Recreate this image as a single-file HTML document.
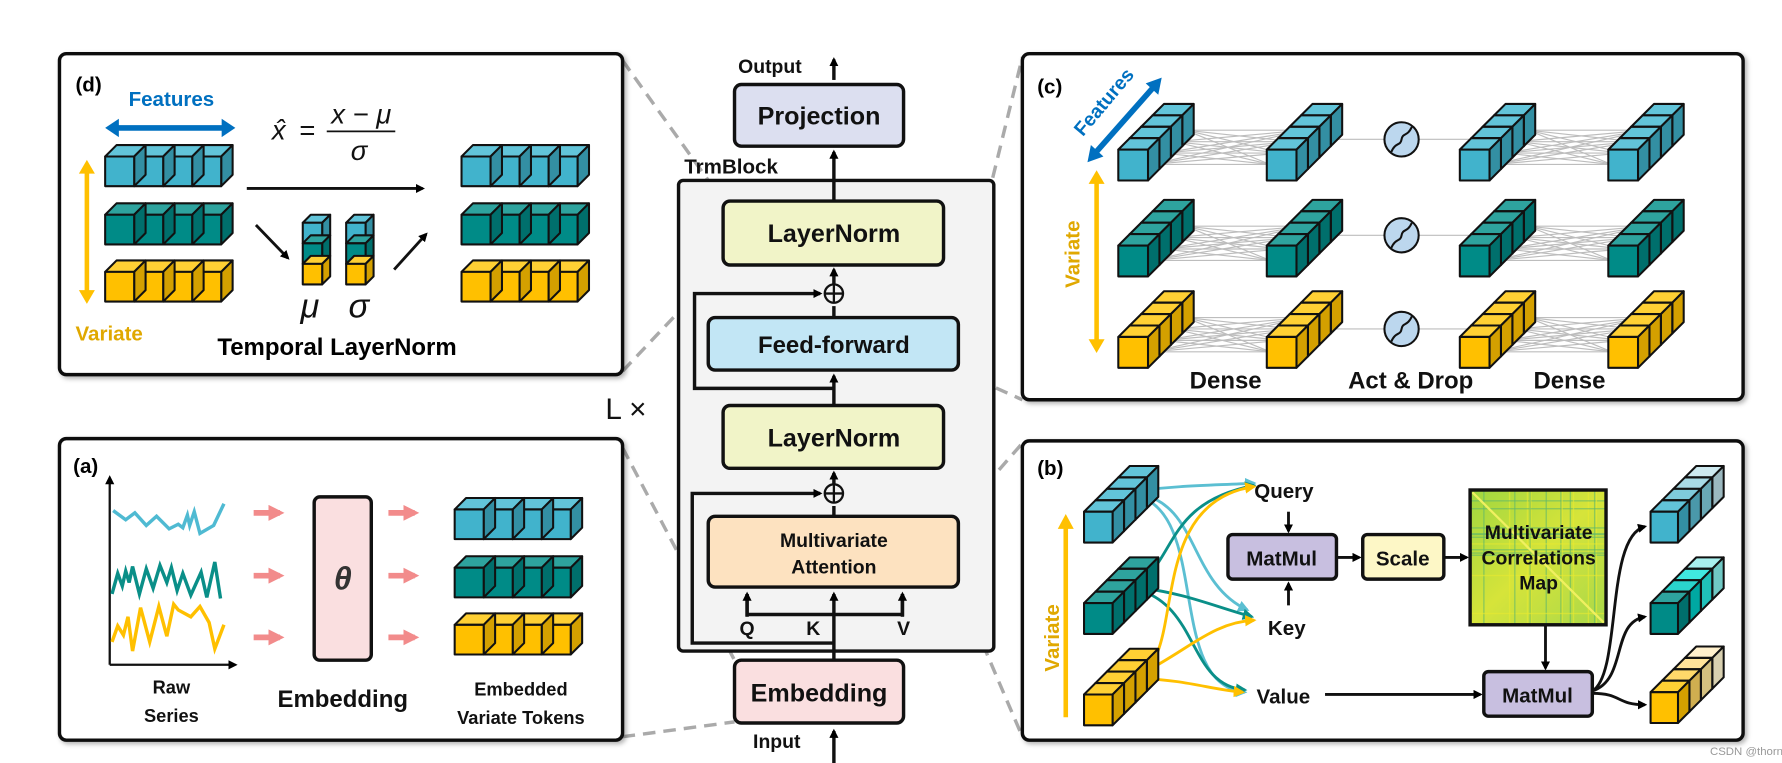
<!DOCTYPE html>
<html><head><meta charset="utf-8">
<style>
html,body{margin:0;padding:0;background:#fff;width:1782px;height:763px;overflow:hidden}
svg{display:block}
text{font-family:"Liberation Sans",sans-serif}
</style></head>
<body>
<svg id="s" width="1782" height="763" viewBox="0 0 1560 668" xmlns="http://www.w3.org/2000/svg">
<defs>
<marker id="ab" markerWidth="8" markerHeight="8" refX="6" refY="4" orient="auto" markerUnits="userSpaceOnUse"><path d="M0,0 L8,4 L0,8 z" fill="#000"/></marker>
<marker id="ap" markerWidth="14" markerHeight="14" refX="10" refY="7" orient="auto" markerUnits="userSpaceOnUse"><path d="M0,0 L14,7 L0,14 z" fill="#f28b8b"/></marker>
<marker id="ac" markerWidth="10" markerHeight="10" refX="8" refY="5" orient="auto" markerUnits="userSpaceOnUse"><path d="M0,0 L10,5 L0,10 z" fill="#5bbfd2"/></marker>
<marker id="at" markerWidth="10" markerHeight="10" refX="8" refY="5" orient="auto" markerUnits="userSpaceOnUse"><path d="M0,0 L10,5 L0,10 z" fill="#0a8f88"/></marker>
<marker id="ay" markerWidth="10" markerHeight="10" refX="8" refY="5" orient="auto" markerUnits="userSpaceOnUse"><path d="M0,0 L10,5 L0,10 z" fill="#ffc000"/></marker>
<linearGradient id="mg" x1="0" y1="0" x2="1" y2="1"><stop offset="0" stop-color="#9fd640"/><stop offset="0.5" stop-color="#d6e43a"/><stop offset="1" stop-color="#a8d84a"/></linearGradient>
<filter id="sh" x="-5%" y="-5%" width="110%" height="110%"><feDropShadow dx="2" dy="2" stdDeviation="2" flood-color="#000" flood-opacity="0.3"/></filter>
</defs>

<g stroke="#aaa" stroke-width="3" stroke-dasharray="11,7" fill="none">
<line x1="545" y1="53" x2="633" y2="176"/>
<line x1="545" y1="325" x2="633" y2="232"/>
<line x1="545" y1="392" x2="643" y2="578"/>
<line x1="545" y1="645" x2="643" y2="632"/>
<line x1="839" y1="278" x2="895" y2="50"/>
<line x1="839" y1="325" x2="895" y2="350"/>
<line x1="839" y1="452" x2="895" y2="388"/>
<line x1="839" y1="514" x2="895" y2="645"/>
</g>

<g fill="#fff" stroke="#111" stroke-width="3" filter="url(#sh)">
<rect x="52" y="47" width="493" height="281" rx="6"/>
<rect x="52" y="384" width="493" height="264" rx="6"/>
<rect x="895" y="47" width="631" height="303" rx="6"/>
<rect x="895" y="386" width="631" height="262" rx="6"/>
</g>

<g font-weight="bold" text-anchor="middle" fill="#111">
<text x="674" y="64" font-size="17">Output</text>
<text x="680" y="655" font-size="17">Input</text>
<text x="640" y="152" font-size="18">TrmBlock</text>
</g>
<rect x="594" y="158" width="276" height="412" rx="4" fill="#f3f3f3" stroke="#111" stroke-width="3"/>
<g stroke="#111" stroke-width="3">
<rect x="643" y="74" width="148" height="54" rx="6" fill="#dcdff0"/>
<rect x="633" y="176" width="193" height="56" rx="6" fill="#f1f4c8"/>
<rect x="620" y="278" width="219" height="46" rx="6" fill="#c2e6f5"/>
<rect x="633" y="355" width="193" height="55" rx="6" fill="#f1f4c8"/>
<rect x="620" y="452" width="219" height="62" rx="6" fill="#fde2c0"/>
<rect x="643" y="578" width="148" height="55" rx="6" fill="#fadfe0"/>
</g>
<g font-weight="bold" text-anchor="middle" fill="#111">
<text x="717" y="109" font-size="22">Projection</text>
<text x="730" y="212" font-size="22">LayerNorm</text>
<text x="730" y="309" font-size="21">Feed-forward</text>
<text x="730" y="391" font-size="22">LayerNorm</text>
<text x="730" y="479" font-size="17">Multivariate</text>
<text x="730" y="502" font-size="17">Attention</text>
<text x="717" y="614" font-size="22">Embedding</text>
<text x="654" y="556" font-size="17">Q</text>
<text x="712" y="556" font-size="17">K</text>
<text x="791" y="556" font-size="17">V</text>
</g>
<text x="530" y="367" font-size="26" fill="#111">L ×</text>
<g stroke="#111" stroke-width="3" fill="none">
<line x1="730" y1="70" x2="730" y2="52" marker-end="url(#ab)"/>
<line x1="730" y1="176" x2="730" y2="133" marker-end="url(#ab)"/>
<line x1="730" y1="668" x2="730" y2="640" marker-end="url(#ab)"/>
<line x1="730" y1="578" x2="730" y2="520" marker-end="url(#ab)"/>
<polyline points="654,520 654,538 790,538 790,520"/>
<line x1="654" y1="540" x2="654" y2="520" marker-end="url(#ab)"/>
<line x1="790" y1="540" x2="790" y2="520" marker-end="url(#ab)"/>
<line x1="730" y1="452" x2="730" y2="443" />
<line x1="730" y1="424" x2="730" y2="414" marker-end="url(#ab)"/>
<line x1="730" y1="355" x2="730" y2="329" marker-end="url(#ab)"/>
<line x1="730" y1="278" x2="730" y2="268"/>
<line x1="730" y1="249" x2="730" y2="236" marker-end="url(#ab)"/>
<polyline points="730,563 606,563 606,432 718,432" marker-end="url(#ab)"/>
<polyline points="730,340 608,340 608,257 718,257" marker-end="url(#ab)"/>
<circle cx="730" cy="257" r="8" stroke-width="2"/>
<circle cx="730" cy="432" r="8" stroke-width="2"/>
<path d="M722,257h16M730,249v16M722,432h16M730,424v16" stroke-width="2"/>
</g>

<text x="66" y="80" font-size="18" font-weight="bold">(d)</text>
<text x="150" y="93" font-size="18" font-weight="bold" fill="#0070c0" text-anchor="middle">Features</text>
<line x1="98" y1="112" x2="200" y2="112" stroke="#0070c0" stroke-width="5"/>
<path d="M92,112 l12,-8 v16z M206,112 l-12,-8 v16z" fill="#0070c0"/>
<line x1="76" y1="150" x2="76" y2="256" stroke="#ffc000" stroke-width="4"/>
<path d="M76,140 l-7,12 h14z M76,266 l-7,-12 h14z" fill="#ffc000"/>
<text x="66" y="298" font-size="18" font-weight="bold" fill="#e0a800">Variate</text>
<g font-family="Liberation Serif,serif" font-style="italic" font-size="24" fill="#111">
<text x="238" y="122">x̂</text><text x="262" y="122" font-style="normal">=</text>
<text x="290" y="108">x − μ</text><text x="307" y="140">σ</text>
<text x="263" y="278" font-size="30">μ</text><text x="305" y="278" font-size="30">σ</text>
</g>
<line x1="286" y1="115" x2="346" y2="115" stroke="#111" stroke-width="1.5"/>
<line x1="216" y1="165" x2="370" y2="165" stroke="#111" stroke-width="2.5" marker-end="url(#ab)"/>
<line x1="224" y1="197" x2="252" y2="226" stroke="#111" stroke-width="2.5" marker-end="url(#ab)"/>
<line x1="345" y1="236" x2="373" y2="205" stroke="#111" stroke-width="2.5" marker-end="url(#ab)"/>
<text x="295" y="311" font-size="21" font-weight="bold" text-anchor="middle">Temporal LayerNorm</text>

<text x="64" y="414" font-size="18" font-weight="bold">(a)</text>
<g stroke="#111" stroke-width="2" fill="none">
<line x1="96" y1="582" x2="96" y2="418" marker-end="url(#ab)"/>
<line x1="96" y1="582" x2="206" y2="582" marker-end="url(#ab)"/>
</g>
<polyline fill="none" stroke="#4fbad2" stroke-width="3" points="99,447 110,455 118,449 128,460 137,452 148,463 156,459 160,462 164,451 166,460 170,448 175,467 187,460 196,441"/>
<polyline fill="none" stroke="#0a8f88" stroke-width="3" points="98,520 103,502 107,513 110,500 113,510 116,496 122,520 128,498 134,515 140,495 146,510 150,497 155,517 160,502 167,521 176,501 181,523 188,492 193,524"/>
<polyline fill="none" stroke="#ffc000" stroke-width="3" points="98,562 103,548 108,556 112,540 116,570 123,532 131,562 139,531 146,557 152,529 156,534 167,540 175,531 183,545 188,568 196,547"/>
<g stroke="#f28b8b" stroke-width="5" marker-end="url(#ap)">
<line x1="222" y1="449" x2="245" y2="449"/><line x1="222" y1="504" x2="245" y2="504"/><line x1="222" y1="558" x2="245" y2="558"/>
<line x1="340" y1="449" x2="363" y2="449"/><line x1="340" y1="504" x2="363" y2="504"/><line x1="340" y1="558" x2="363" y2="558"/>
</g>
<rect x="275" y="435" width="50" height="143" rx="5" fill="#fadfe0" stroke="#111" stroke-width="3"/>
<text x="300" y="516" font-size="28" font-family="Liberation Serif,serif" font-style="italic" font-weight="bold" fill="#333" text-anchor="middle">θ</text>
<g font-weight="bold" text-anchor="middle" fill="#111">
<text x="150" y="607" font-size="16">Raw</text><text x="150" y="632" font-size="16">Series</text>
<text x="300" y="619" font-size="21">Embedding</text>
<text x="456" y="609" font-size="16">Embedded</text><text x="456" y="634" font-size="16">Variate Tokens</text>
</g>

<text x="908" y="82" font-size="18" font-weight="bold">(c)</text>
<g transform="translate(948,120) rotate(-50)"><text x="0" y="0" font-size="17" font-weight="bold" fill="#0070c0">Features</text></g>
<line x1="957" y1="136" x2="1011" y2="75" stroke="#0070c0" stroke-width="5"/>
<path d="M952,142 l3,-15 l11,10z M1017,68 l-3,15 l-11,-10z" fill="#0070c0"/>
<line x1="960" y1="160" x2="960" y2="298" stroke="#ffc000" stroke-width="4"/>
<path d="M960,149 l-7,12 h14z M960,309 l-7,-12 h14z" fill="#ffc000"/>
<g transform="translate(945,252) rotate(-90)"><text x="0" y="0" font-size="18" font-weight="bold" fill="#e0a800">Variate</text></g>
<g id="clines" stroke="#bdbdbd" stroke-width="1"></g>
<g font-weight="bold" text-anchor="middle" font-size="21" fill="#111">
<text x="1073" y="340">Dense</text><text x="1235" y="340">Act &amp; Drop</text><text x="1374" y="340">Dense</text>
</g>

<text x="908" y="416" font-size="18" font-weight="bold">(b)</text>
<line x1="933" y1="462" x2="933" y2="628" stroke="#ffc000" stroke-width="4"/>
<path d="M933,450 l-7,13 h14z" fill="#ffc000"/>
<g transform="translate(927,588) rotate(-90)"><text x="0" y="0" font-size="18" font-weight="bold" fill="#e0a800">Variate</text></g>
<g fill="none" stroke-width="2.5">
<path d="M995,430 C1030,425 1060,425 1098,423" stroke="#5bbfd2" marker-end="url(#ac)"/>
<path d="M995,432 C1050,440 1040,510 1092,534" stroke="#5bbfd2" marker-end="url(#ac)"/>
<path d="M995,434 C1060,450 1020,600 1090,606" stroke="#5bbfd2" marker-end="url(#ac)"/>
<path d="M995,512 C1030,490 1020,440 1098,425" stroke="#0a8f88" marker-end="url(#at)"/>
<path d="M995,514 C1040,520 1060,530 1096,540" stroke="#0a8f88" marker-end="url(#at)"/>
<path d="M995,516 C1050,530 1040,600 1090,604" stroke="#0a8f88" marker-end="url(#at)"/>
<path d="M995,590 C1040,580 1000,440 1098,426" stroke="#ffc000" marker-end="url(#ay)"/>
<path d="M995,592 C1040,570 1060,545 1098,543" stroke="#ffc000" marker-end="url(#ay)"/>
<path d="M995,594 C1040,595 1060,604 1088,606" stroke="#ffc000" marker-end="url(#ay)"/>
</g>
<g font-weight="bold" font-size="18" fill="#111">
<text x="1098" y="436">Query</text><text x="1110" y="556">Key</text><text x="1100" y="616">Value</text>
</g>
<g stroke="#111" stroke-width="2.5" fill="none">
<line x1="1128" y1="448" x2="1128" y2="465" marker-end="url(#ab)"/>
<line x1="1128" y1="530" x2="1128" y2="511" marker-end="url(#ab)"/>
<line x1="1170" y1="488" x2="1190" y2="488" marker-end="url(#ab)"/>
<line x1="1264" y1="488" x2="1284" y2="488" marker-end="url(#ab)"/>
<line x1="1160" y1="608" x2="1296" y2="608" marker-end="url(#ab)"/>
<line x1="1353" y1="547" x2="1353" y2="585" marker-end="url(#ab)"/>
<path d="M1394,605 C1420,590 1405,470 1440,461" marker-end="url(#ab)"/>
<path d="M1394,605 C1425,595 1410,545 1440,540" marker-end="url(#ab)"/>
<path d="M1394,607 C1420,607 1415,617 1440,617" marker-end="url(#ab)"/>
</g>
<rect x="1075" y="468" width="95" height="39" rx="4" fill="#c8bfe0" stroke="#111" stroke-width="3"/>
<rect x="1193" y="468" width="71" height="39" rx="4" fill="#fdf7c6" stroke="#111" stroke-width="3"/>
<rect x="1299" y="588" width="95" height="39" rx="4" fill="#c8bfe0" stroke="#111" stroke-width="3"/>
<g id="map"></g>
<rect x="1287" y="429" width="119" height="118" fill="none" stroke="#111" stroke-width="3"/>
<g font-weight="bold" text-anchor="middle" fill="#111">
<text x="1122" y="495" font-size="18">MatMul</text>
<text x="1228" y="495" font-size="18">Scale</text>
<text x="1346" y="615" font-size="18">MatMul</text>
<text x="1347" y="472" font-size="17">Multivariate</text>
<text x="1347" y="494" font-size="17">Correlations</text>
<text x="1347" y="516" font-size="17">Map</text>
</g>
<g id="cubes" stroke="#111" stroke-width="1.8" stroke-linejoin="round"></g>
<text x="1497" y="661" font-size="10" fill="#999">CSDN @thorn_r</text>
</svg>
<script>
var NS="http://www.w3.org/2000/svg",G=document.getElementById("cubes");
var C={c:["#41b3cc","#62c4d9","#338fa3"],t:["#008b87","#2ea39e","#006f6c"],y:["#ffc000","#ffd034","#d4a000"]};
function P(pts,f,g){var e=document.createElementNS(NS,"polygon");e.setAttribute("points",pts.map(function(p){return p.join(",")}).join(" "));e.setAttribute("fill",f);(g||G).appendChild(e);}
function cube(x,y,w,h,d,c,tc,sc){P([[x,y],[x+d,y-d],[x+w+d,y-d],[x+w,y]],tc||c[1]);P([[x+w,y],[x+w+d,y-d],[x+w+d,y+h-d],[x+w,y+h]],sc||c[2]);P([[x,y],[x+w,y],[x+w,y+h],[x,y+h]],c[0]);}
function row(x,y,c,n,w,h,d){for(var i=n-1;i>=0;i--)cube(x+i*w,y,w,h,d,c);}
[["c",137],["t",188],["y",238]].forEach(function(r){row(92,r[1],C[r[0]],4,25.4,26,10);row(404,r[1],C[r[0]],4,25.4,26,10);row(398,r[1]+309,C[r[0]],4,25.4,26,10);});
[265,303].forEach(function(x){cube(x,195,17,18,7,C.c);cube(x,213,17,18,7,C.t);cube(x,231,17,18,7,C.y);});
function stack(x,y,c,w,h,s,light){for(var i=3;i>=0;i--){if(light){cube(x+i*s,y-i*s,w,h,s,c,light[i],light[i+4]);}else cube(x+i*s,y-i*s,w,h,s,c);}}
var L=document.getElementById("clines");
function ln(a,b,c,d){var e=document.createElementNS(NS,"line");e.setAttribute("x1",a);e.setAttribute("y1",b);e.setAttribute("x2",c);e.setAttribute("y2",d);L.appendChild(e);}
[["c",131,122],["t",215,206],["y",295,288]].forEach(function(r){
 var y=r[1];
 for(var i=0;i<4;i++)for(var j=0;j<4;j++){ln(1008+i*10,y+13-i*10,1112+j*10,y+13-j*10);ln(1308+i*10,y+13-i*10,1411+j*10,y+13-j*10);}
 ln(1160,r[2],1278+15,r[2]);
 stack(979,y,C[r[0]],26,27,10);stack(1109,y,C[r[0]],26,27,10);stack(1278,y,C[r[0]],26,27,10);stack(1408,y,C[r[0]],26,27,10);
 var ci=document.createElementNS(NS,"circle");ci.setAttribute("cx",1227);ci.setAttribute("cy",r[2]);ci.setAttribute("r",15);ci.setAttribute("fill","#bcd7ee");G.appendChild(ci);
 var p=document.createElementNS(NS,"path");p.setAttribute("d","M1218,"+(r[2]+11)+" C1222,"+(r[2]+2)+" 1226,"+(r[2]+6)+" 1227,"+r[2]+" C1228,"+(r[2]-6)+" 1232,"+(r[2]-2)+" 1236,"+(r[2]-11));p.setAttribute("fill","none");G.appendChild(p);
});
[["c",448],["t",528],["y",608]].forEach(function(r){stack(949,r[1],C[r[0]],25,27,10);});
var lit={c:["#62c4d9","#7fcbdc","#a8dae5","#cde9ef","#338fa3","#4a98aa","#6aa8b5","#9bb8bf"],
t:["#2ea39e","#2ad4cc","#40e8e0","#a8f0ee","#006f6c","#00a8a2","#20c0ba","#70c8c4"],
y:["#ffd034","#ffd96a","#ffe39a","#fff0cc","#d4a000","#d0ae50","#d4c080","#d8d0b0"]};
[["c",448],["t",528],["y",606]].forEach(function(r){stack(1445,r[1],C[r[0]],24,27,10,lit[r[0]]);});
var M=document.getElementById("map");
var bg=document.createElementNS(NS,"rect");bg.setAttribute("x",1287);bg.setAttribute("y",429);bg.setAttribute("width",119);bg.setAttribute("height",118);bg.setAttribute("fill","url(#mg)");M.appendChild(bg);
var seed=7;function rnd(){seed=(seed*9301+49297)%233280;return seed/233280;}
for(var k=0;k<28;k++){var v=rnd()<0.5;var e=document.createElementNS(NS,"rect");var p=1288+rnd()*116;
 if(v){e.setAttribute("x",p);e.setAttribute("y",430);e.setAttribute("width",1.2);e.setAttribute("height",116);}else{e.setAttribute("x",1288);e.setAttribute("y",p-859);e.setAttribute("width",117);e.setAttribute("height",1.2);}
 e.setAttribute("fill",rnd()<0.5?"#5fb86a":"#e8ea30");e.setAttribute("opacity",0.6);M.appendChild(e);}
var dg=document.createElementNS(NS,"line");dg.setAttribute("x1",1289);dg.setAttribute("y1",431);dg.setAttribute("x2",1404);dg.setAttribute("y2",545);dg.setAttribute("stroke","#f0f060");dg.setAttribute("stroke-width",2);M.appendChild(dg);
</script>
</body></html>
